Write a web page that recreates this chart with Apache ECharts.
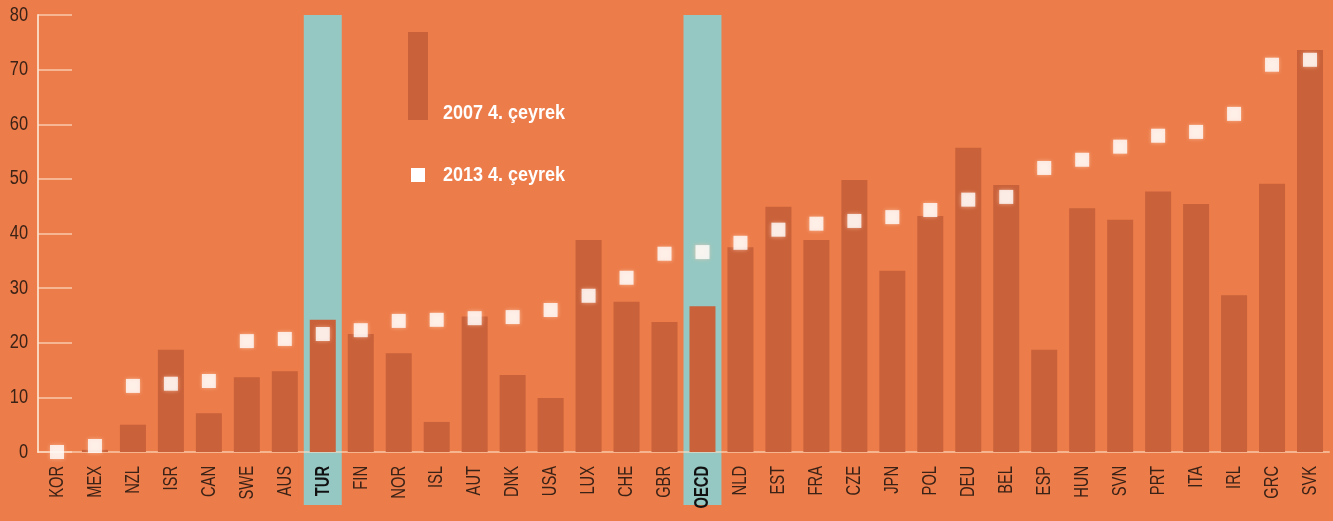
<!DOCTYPE html>
<html>
<head>
<meta charset="utf-8">
<script src="https://cdn.jsdelivr.net/npm/echarts@6/dist/echarts.min.js"></script>
<style>
  html, body { margin: 0; padding: 0; background: #EC7C4A; }
  #chart { width: 1333px; height: 521px; }
</style>
</head>
<body>
<div id="chart"></div>
<script>
// ülke kodları
const countries = ['KOR','MEX','NZL','ISR','CAN','SWE','AUS','TUR','FIN','NOR','ISL','AUT','DNK','USA','LUX','CHE','GBR','OECD','NLD','EST','FRA','CZE','JPN','POL','DEU','BEL','ESP','HUN','SVN','PRT','ITA','IRL','GRC','SVK'];
// 2007 4. çeyrek (bar)
const q2007 = [0,0.4,5.0,18.7,7.1,13.7,14.8,24.2,21.6,18.1,5.5,24.8,14.1,9.9,38.8,27.5,23.8,26.7,37.5,44.9,38.8,49.8,33.2,43.2,55.7,48.9,18.7,44.6,42.5,47.7,45.4,28.7,49.1,73.6];
// 2013 4. çeyrek (kare)
const q2013 = [0,1.1,12.1,12.5,13.0,20.3,20.7,21.6,22.3,24.0,24.2,24.5,24.7,26.0,28.6,31.9,36.3,36.6,38.3,40.7,41.8,42.3,43.0,44.3,46.2,46.7,52.0,53.5,55.9,57.9,58.6,61.9,70.9,71.8];
const yTicks = [0,10,20,30,40,50,60,70,80];
const highlighted = ['TUR','OECD'];

const barColor = '#C9613A';
const tealColor = '#95C8C2';
const textColor = '#3a2216';
const font = '"Liberation Sans", Arial, sans-serif';

const chart = echarts.init(document.getElementById('chart'));

chart.setOption({
  backgroundColor: '#EC7C4A',
  animation: false,
  grid: { left: 38, right: 4, top: 15, bottom: 69 },
  xAxis: {
    type: 'category',
    data: countries,
    axisLine: { lineStyle: { color: 'rgba(255,225,200,0.55)', width: 2 } },
    axisTick: { show: false },
    axisLabel: { show: false }
  },
  yAxis: {
    type: 'value',
    min: yTicks[0],
    max: yTicks[yTicks.length - 1],
    interval: 10,
    axisLine: { show: true, lineStyle: { color: 'rgba(255,235,215,0.8)', width: 2 } },
    axisTick: { show: true, inside: true, length: 34, lineStyle: { color: 'rgba(255,230,210,0.55)', width: 2 } },
    splitLine: { show: false },
    axisLabel: { show: false }
  },
  series: [
    {
      name: '2007 4. çeyrek',
      type: 'bar',
      data: q2007,
      barWidth: 26,
      itemStyle: { color: barColor },
      z: 2
    },
    {
      name: '2013 4. çeyrek',
      type: 'scatter',
      data: q2013,
      symbol: 'rect',
      symbolSize: 14,
      itemStyle: { color: '#FFFFFF', shadowBlur: 4, shadowColor: 'rgba(255,200,170,0.8)' },
      z: 3
    }
  ]
});

// dar yazı tipi yok: etiketleri ölçekli metin olarak çiz
const band = chart.convertToPixel({ xAxisIndex: 0 }, 'FIN') - chart.convertToPixel({ xAxisIndex: 0 }, 'TUR');
const graphics = [];

highlighted.forEach((c) => {
  const cx = chart.convertToPixel({ xAxisIndex: 0 }, c);
  graphics.push({
    type: 'rect',
    z: -1,
    shape: { x: cx - band / 2, y: 15, width: band, height: 490 },
    style: { fill: tealColor }
  });
});

countries.forEach((c) => {
  const cx = chart.convertToPixel({ xAxisIndex: 0 }, c);
  const bold = highlighted.includes(c);
  graphics.push({
    type: 'text',
    x: cx,
    y: 466,
    rotation: Math.PI / 2,
    scaleX: 0.7,
    style: {
      text: c,
      fill: bold ? '#111' : textColor,
      font: (bold ? 'bold ' : '') + '21px ' + font,
      align: 'right',
      verticalAlign: 'middle'
    }
  });
});

yTicks.forEach((v) => {
  const py = chart.convertToPixel({ yAxisIndex: 0 }, v);
  graphics.push({
    type: 'text',
    x: 28,
    y: py,
    scaleX: 0.82,
    style: {
      text: String(v),
      fill: textColor,
      font: '20px ' + font,
      align: 'right',
      verticalAlign: 'middle'
    }
  });
});

// lejant
graphics.push(
  { type: 'rect', shape: { x: 408, y: 32, width: 20, height: 88 }, style: { fill: barColor } },
  { type: 'text', x: 443, y: 113, scaleX: 0.9, style: { text: '2007 4. çeyrek', fill: '#fff', font: 'bold 20px ' + font, verticalAlign: 'middle' } },
  { type: 'rect', shape: { x: 411, y: 168, width: 14, height: 14 }, style: { fill: '#fff' } },
  { type: 'text', x: 443, y: 175, scaleX: 0.9, style: { text: '2013 4. çeyrek', fill: '#fff', font: 'bold 20px ' + font, verticalAlign: 'middle' } }
);

chart.setOption({ graphic: graphics });
</script>
</body>
</html>
